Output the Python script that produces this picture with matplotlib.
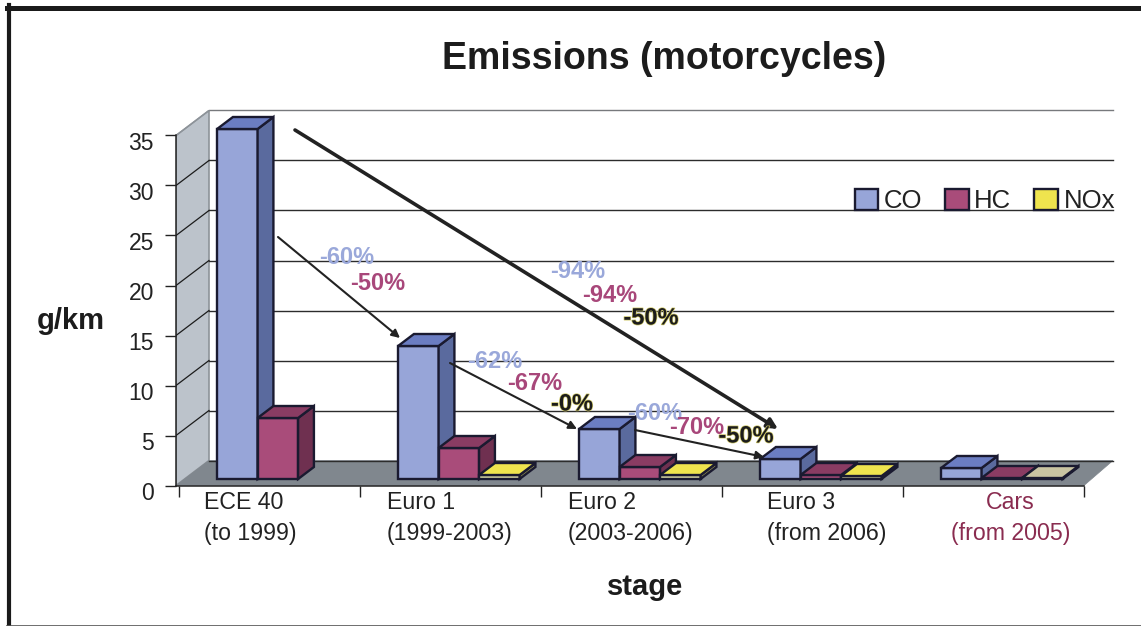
import matplotlib
matplotlib.use('Agg')
import matplotlib.pyplot as plt
import matplotlib.patheffects as pe
from matplotlib.patches import Polygon, Rectangle
from matplotlib.transforms import ScaledTranslation

plt.rcParams['font.family'] = ['Liberation Sans', 'DejaVu Sans']

# data
stages = ['ECE 40\n(to 1999)', 'Euro 1\n(1999-2003)', 'Euro 2\n(2003-2006)', 'Euro 3\n(from 2006)', 'Cars\n(from 2005)']
co = [35.0, 13.3, 5.0, 2.0, 1.1]
hc = [6.1, 3.1, 1.2, 0.4, 0.1]
nox = [0.0, 0.4, 0.4, 0.3, 0.1]
y_ticks = [0, 5, 10, 15, 20, 25, 30, 35]
pct_labels = ['-60%', '-50%', '-94%', '-94%', '-50%', '-62%', '-67%', '-0%', '-60%', '-70%', '-50%']
pct_series = ['CO', 'HC', 'CO', 'HC', 'NOx', 'CO', 'HC', 'NOx', 'CO', 'HC', 'NOx']

# layout, in pixels of the 1141x626 picture
W, H = 1141, 626
X0, Y0, XW, YU = 179, 485.5, 181.0, 10.0
DX, DY = 33 / XW, 2.5  # floor depth in data units
BAR_W = 40.5 / XW
BAR_OFF = 29.5 / XW
D1, D2 = 0.26, 0.74
label_px = [204, 387, 568, 767, 951]
pct_px = [(347, 258), (378, 284), (578, 271), (610, 296), (651, 318), (495, 361),
          (535, 384), (572, 404), (655, 413), (697, 428), (746, 436)]
arrows_px = [((295, 130), (778, 429), 2.6, 15), ((278, 237), (400, 338), 1.5, 12),
             ((450, 363), (577, 429), 1.5, 12), ((635, 430), (764, 457), 1.5, 12)]

colors = {
    'CO': ('#97a5d8', '#6b7dc2', '#5a6a9e'),
    'HC': ('#a94c7a', '#8a3c63', '#6f3050'),
    'NOx': ('#d9d8a6', '#efe44e', '#8c8a50'),
}
text_colors = {'CO': '#9aa8da', 'HC': '#a8477a', 'NOx': '#1c1c1c'}
edge = '#1a1a30'


def px(x, y):
    return (x - X0) / XW, (Y0 - y) / YU


def proj(x, v, d):
    return x + d * DX, v + d * DY


fig = plt.figure(figsize=(W / 100, H / 100), dpi=100, facecolor='white')
left, right = 176, 1113
ax = fig.add_axes([left / W, (H - Y0) / H, (right - left) / W, (Y0 - 110) / H])
ax.set_xlim(px(left, 0)[0], px(right, 0)[0])
ax.set_ylim(0, (Y0 - 110) / YU)
ax.patch.set_visible(False)

# frame of the slide
fig.add_artist(plt.Line2D([9 / W, 9 / W], [0, 1 - 5 / H], color='#1a1a1a', lw=3))
fig.add_artist(plt.Line2D([7 / W, 1], [1 - 7.5 / H, 1 - 7.5 / H], color='#1a1a1a', lw=3.6))
fig.add_artist(plt.Line2D([7 / W, 1], [0.5 / H, 0.5 / H], color='#555555', lw=1.2))

n = len(stages)
xw, xe = ax.get_xlim()

# wall, floor
wall = [proj(xw, 0, 0), proj(xw, 35, 0), proj(xw, 35, 1), proj(xw, 0, 1)]
ax.add_patch(Polygon(wall, closed=True, fc='#bcc3cb', ec='#8d9399', lw=1.2, zorder=1))
floor = [proj(xw, 0, 0), (n, 0), (xe, DY), proj(xw, 0, 1)]
ax.add_patch(Polygon(floor, closed=True, fc='#80878e', ec='#80878e', lw=0.5, zorder=1))

# gridlines on the back and the wall
for v in y_ticks:
    if v > 0:
        c = '#77797c' if v == 35 else '#2c2c2c'
        ax.plot([proj(xw, v, 1)[0], xe], [v + DY, v + DY], color=c, lw=1.0, zorder=2, clip_on=False)
        ax.plot([xw, proj(xw, v, 1)[0]], [v, v + DY], color='#1c1c1c' if v < 35 else '#8d9399', lw=0.9, zorder=2)
ax.plot([proj(xw, 0, 1)[0], xe], [DY, DY], color='#2c2c2c', lw=1.0, zorder=2, clip_on=False)


def draw_bar(x, v, name, z):
    front, top, side = colors[name]
    x1, x2 = x, x + BAR_W
    ax.add_patch(Polygon([proj(x1, 0, D1), proj(x2, 0, D1), proj(x2, v, D1), proj(x1, v, D1)],
                         fc=front, ec=edge, lw=1.7, zorder=z, joinstyle='miter'))
    ax.add_patch(Polygon([proj(x2, 0, D1), proj(x2, 0, D2), proj(x2, v, D2), proj(x2, v, D1)],
                         fc=side, ec=edge, lw=1.7, zorder=z, joinstyle='miter'))
    ax.add_patch(Polygon([proj(x1, v, D1), proj(x2, v, D1), proj(x2, v, D2), proj(x1, v, D2)],
                         fc=top, ec=edge, lw=1.7, zorder=z, joinstyle='miter'))


z = 3
for i in range(n):
    x = i + BAR_OFF
    draw_bar(x, co[i], 'CO', z)
    draw_bar(x + BAR_W, hc[i], 'HC', z + 0.1)
    if nox[i] > 0:
        draw_bar(x + 2 * BAR_W, nox[i], 'NOx', z + 0.2)
    z += 1

# Cars bars have a paler NOx top in the original
ax.patches[-1].set_facecolor('#c9c4a2')

# axes
for s in ['top', 'right']:
    ax.spines[s].set_visible(False)
ax.spines['left'].set_bounds(0, 35)
ax.spines['bottom'].set_bounds(xw, n)
ax.spines['left'].set_color('#222222')
ax.spines['bottom'].set_color('#222222')
ax.spines['left'].set_linewidth(1.1)
ax.spines['bottom'].set_linewidth(1.1)
ax.set_yticks(y_ticks)
ax.set_xticks(range(n + 1))
ax.set_xticklabels([])
ax.tick_params(axis='y', length=8, width=1.0, color='#222222', labelsize=16.5, labelcolor='#222222', pad=8)
ax.tick_params(axis='x', length=8, width=1.0, color='#222222')
shift = ScaledTranslation(0, -5.5 / 100, fig.dpi_scale_trans)
for lab in ax.get_yticklabels():
    lab.set_transform(lab.get_transform() + shift)

for i, lab in enumerate(stages):
    cars = lab.startswith('Cars')
    ax.text(px(label_px[i], 0)[0], px(0, 491)[1], lab, ha='left', va='top', fontsize=16.7,
            multialignment='center' if cars else 'left', linespacing=1.45,
            color='#8a2c50' if cars else '#222222', clip_on=False)

ax.set_title('Emissions (motorcycles)', fontsize=27, fontweight='bold', color='#1c1c1c',
             x=(664 - left) / (right - left), y=(Y0 - 41) / (Y0 - 110), pad=0, va='top')
ax.set_xlabel('stage', fontsize=21, fontweight='bold', color='#1c1c1c')
ax.xaxis.set_label_coords((645 - left) / (right - left), (Y0 - 587) / (Y0 - 110))
ax.xaxis.label.set_va('center')
ax.set_ylabel('g/km', fontsize=21, fontweight='bold', color='#1c1c1c', rotation=0, ha='center', va='center')
ax.yaxis.set_label_coords((71 - left) / (right - left), (Y0 - 321) / (Y0 - 110))

# legend
handles = [Rectangle((0, 0), 1, 1, fc=colors[k][0] if k != 'NOx' else colors[k][1], ec=edge, lw=1.7) for k in ['CO', 'HC', 'NOx']]
ax.legend(handles, ['CO', 'HC', 'NOx'], ncol=3, frameon=False, fontsize=18.5, handlelength=0.93, handleheight=0.93,
          handletextpad=0.2, columnspacing=0.9, borderpad=0, borderaxespad=0, labelcolor='#222222',
          loc='center right', bbox_to_anchor=((1115 - left) / (right - left), (Y0 - 201) / (Y0 - 110)))

# arrows
for a, b, lw, ms in arrows_px:
    ax.annotate('', xy=px(*b), xytext=px(*a), zorder=50,
                arrowprops=dict(arrowstyle='-|>', color='#222222', lw=lw, shrinkA=0, shrinkB=0,
                                mutation_scale=ms))

# percent labels
for (x, y), lab, s in zip(pct_px, pct_labels, pct_series):
    t = ax.text(*px(x, y), lab, ha='center', va='center', fontsize=17, fontweight='bold',
                color=text_colors[s], zorder=60)
    if s == 'NOx':
        t.set_path_effects([pe.withStroke(linewidth=1.0, foreground='#cfc867')])

fig.savefig('out.png', dpi=100)
